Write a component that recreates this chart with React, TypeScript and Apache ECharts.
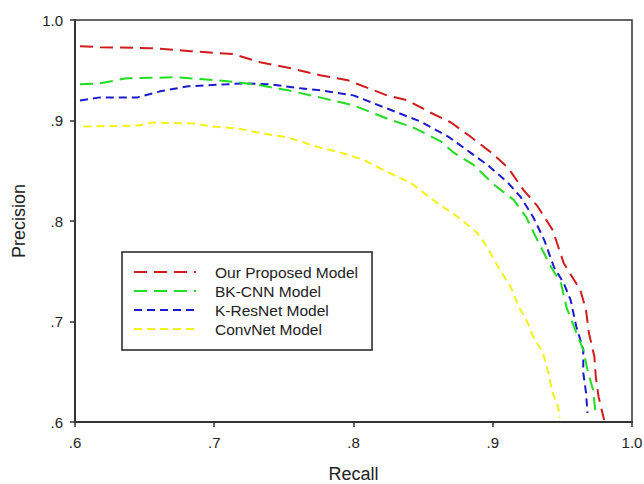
import React, { useEffect, useRef } from "react";
import * as echarts from "echarts";

const seriesNames = ["Our Proposed Model", "BK-CNN Model", "K-ResNet Model", "ConvNet Model"];
const xTicks = [0.6, 0.7, 0.8, 0.9, 1.0];
const yTicks = [0.6, 0.7, 0.8, 0.9, 1.0];

const proposedRecall = [0.6036, 0.618, 0.654, 0.683, 0.714, 0.733, 0.755, 0.776, 0.796, 0.824, 0.839, 0.855, 0.87, 0.882, 0.899, 0.911, 0.922, 0.932, 0.943, 0.951, 0.963, 0.967, 0.969, 0.973, 0.974, 0.976, 0.98];
const proposedPrecision = [0.974, 0.973, 0.972, 0.969, 0.966, 0.958, 0.952, 0.945, 0.94, 0.925, 0.92, 0.908, 0.898, 0.886, 0.868, 0.853, 0.831, 0.815, 0.791, 0.758, 0.731, 0.711, 0.689, 0.665, 0.645, 0.625, 0.602];

const bkRecall = [0.6036, 0.618, 0.637, 0.673, 0.702, 0.717, 0.733, 0.753, 0.776, 0.8, 0.824, 0.843, 0.863, 0.872, 0.886, 0.901, 0.915, 0.924, 0.932, 0.942, 0.949, 0.953, 0.96, 0.965, 0.968, 0.972, 0.974];
const bkPrecision = [0.936, 0.937, 0.942, 0.943, 0.94, 0.938, 0.935, 0.93, 0.923, 0.915, 0.902, 0.893, 0.879, 0.868, 0.856, 0.836, 0.821, 0.804, 0.781, 0.754, 0.738, 0.714, 0.689, 0.672, 0.652, 0.632, 0.607];

const kresRecall = [0.6036, 0.618, 0.645, 0.661, 0.681, 0.709, 0.721, 0.74, 0.762, 0.776, 0.8, 0.824, 0.848, 0.868, 0.884, 0.896, 0.911, 0.92, 0.929, 0.937, 0.944, 0.951, 0.956, 0.96, 0.965, 0.965, 0.967, 0.968];
const kresPrecision = [0.92, 0.923, 0.923, 0.929, 0.934, 0.936, 0.937, 0.936, 0.932, 0.93, 0.925, 0.912, 0.899, 0.884, 0.868, 0.856, 0.838, 0.824, 0.804, 0.781, 0.754, 0.738, 0.721, 0.695, 0.672, 0.649, 0.629, 0.609];

const convRecall = [0.606, 0.645, 0.656, 0.685, 0.699, 0.717, 0.735, 0.753, 0.776, 0.791, 0.807, 0.824, 0.841, 0.86, 0.875, 0.889, 0.896, 0.904, 0.913, 0.919, 0.925, 0.929, 0.936, 0.94, 0.943, 0.947, 0.948];
const convPrecision = [0.894, 0.895, 0.898, 0.897, 0.894, 0.892, 0.887, 0.883, 0.873, 0.868, 0.861, 0.849, 0.838, 0.818, 0.804, 0.788, 0.774, 0.754, 0.734, 0.714, 0.699, 0.685, 0.669, 0.649, 0.629, 0.615, 0.604];

const recallSets = [proposedRecall, bkRecall, kresRecall, convRecall];
const precisionSets = [proposedPrecision, bkPrecision, kresPrecision, convPrecision];
const colors = ["#d01c1c", "#22dd22", "#1c1ccc", "#f2f21a"];
const dashes = [[13, 7], [13, 7], [8, 5], [8, 5]];

const fmt = (v: number) => (Math.abs(v - 1) < 1e-9 ? "1.0" : v.toFixed(1).replace(/^0/, ""));
const FONT = "Liberation Sans, Arial, sans-serif";

export default function App() {
  const ref = useRef<HTMLDivElement>(null);
  useEffect(() => {
    if (!ref.current) return;
    const chart = echarts.init(ref.current, null, { renderer: "svg" });
    const series = seriesNames.map((name, i) => ({
      name,
      type: "line",
      data: recallSets[i].map((x, j) => [x, precisionSets[i][j]]),
      showSymbol: false,
      symbol: "none",
      lineStyle: { color: colors[i], width: 2, type: dashes[i] },
      itemStyle: { color: colors[i] },
      z: 5 - i,
    }));
    chart.setOption({
      animation: false,
      backgroundColor: "#ffffff",
      grid: {
        left: 75,
        top: 20,
        right: 12,
        bottom: 62,
        containLabel: false,
        outerBoundsMode: "none",
        show: true,
        borderColor: "#333",
        borderWidth: 1.5,
        backgroundColor: "transparent",
      },
      legend: {
        orient: "vertical",
        left: 122,
        top: 252,
        padding: [12, 14, 13, 11],
        itemWidth: 62,
        itemHeight: 14,
        itemGap: 3,
        borderColor: "#222",
        borderWidth: 1.5,
        backgroundColor: "#fff",
        itemStyle: { opacity: 0, borderWidth: 0 },
        textStyle: { fontSize: 15.5, color: "#222", fontFamily: FONT, padding: [0, 0, 0, 14] },
        data: seriesNames.map((n) => ({ name: n })),
      },
      xAxis: {
        type: "value",
        min: 0.6,
        max: 1.0,
        interval: 0.1,
        name: "Recall",
        nameLocation: "middle",
        nameGap: 43,
        nameTextStyle: { fontSize: 18, color: "#222", fontFamily: FONT },
        axisLine: { show: true, lineStyle: { color: "#333", width: 2 } },
        axisTick: { show: true, inside: false, length: 5, lineStyle: { color: "#333", width: 1.5 } },
        axisLabel: { formatter: fmt, fontSize: 15, color: "#222", margin: 13, fontFamily: FONT },
        splitLine: { show: false },
      },
      yAxis: {
        type: "value",
        min: 0.6,
        max: 1.0,
        interval: 0.1,
        name: "Precision",
        nameLocation: "middle",
        nameGap: 47,
        nameTextStyle: { fontSize: 18, color: "#222", fontFamily: FONT },
        axisLine: { show: true, lineStyle: { color: "#333", width: 2 } },
        axisTick: { show: true, inside: false, length: 5, lineStyle: { color: "#333", width: 1.5 } },
        axisLabel: { formatter: fmt, fontSize: 15, color: "#222", margin: 12, fontFamily: FONT },
        splitLine: { show: false },
      },
      series,
    });
    return () => chart.dispose();
  }, []);
  return (
    <div
      ref={ref}
      style={{ position: "fixed", left: 0, top: 0, width: 644, height: 484, background: "#fff" }}
    />
  );
}
